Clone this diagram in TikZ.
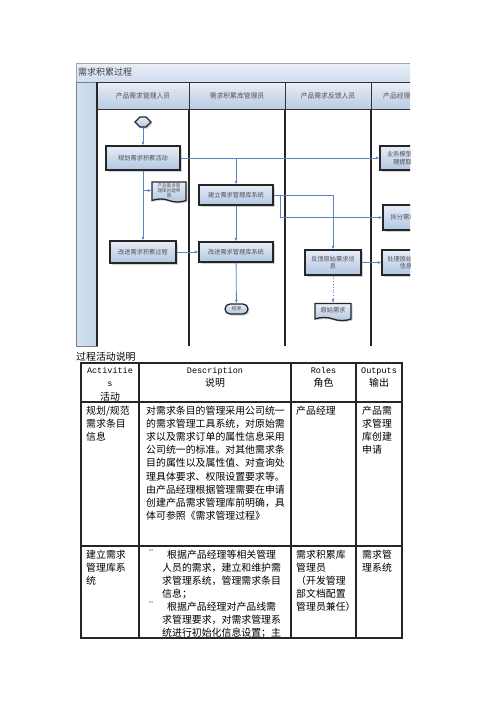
\documentclass[tikz,border=0pt]{standalone}
\usepackage{fontspec}
\setmainfont{Noto Sans CJK SC}
\newfontfamily\latinmono{Liberation Mono}
\usetikzlibrary{arrows.meta,shapes.symbols,shadows}
\definecolor{flowblue}{HTML}{5B84C4}
\definecolor{boxtop}{HTML}{E6EDF7}
\definecolor{boxbottom}{HTML}{B2C6E1}
\definecolor{headtop}{HTML}{E9EFF7}
\definecolor{headbottom}{HTML}{B8CAE2}
\definecolor{stripblue}{HTML}{C3D4EA}
\definecolor{flowtext}{HTML}{505050}
\newcommand{\flowfont}{\fontsize{6.2}{7.6}\selectfont}
\newcommand{\tblfont}{\fontsize{9.9}{13.1}\selectfont}
\newcommand{\tbllatin}{\latinmono\fontsize{8.5}{13.1}\selectfont}

\begin{document}
\begin{tikzpicture}[x=1pt, y=-1pt,
    lanehead/.style={rectangle, draw=black!80, line width=0.8pt, top color=headtop, bottom color=headbottom,
      minimum width=92, minimum height=27, inner sep=0, font=\fontsize{6.8}{8}\selectfont, text=flowtext},
    activity/.style={rectangle, draw=black!85, line width=1.3pt, top color=boxtop, bottom color=boxbottom,
      font=\flowfont, text=flowtext, align=center, inner sep=0,
      drop shadow={shadow xshift=1.5pt, shadow yshift=-1.5pt, opacity=0.35}},
    docu/.style={activity, tape, tape bend top=none, tape bend bottom=out and in, tape bend height=3pt},
    terminal/.style={activity, rounded corners=5},
    flow/.style={draw=flowblue, line width=0.8pt, -{Latex[length=3.5pt,width=3pt]}},
    laneline/.style={draw=black!85, line width=1.2pt},
    tblline/.style={draw=black!85, line width=1.1pt},
    cell/.style={anchor=north west, inner sep=0, align=left, font=\tblfont}]
   \useasboundingbox (0,0) rectangle (500,707);

   % swimlane picture
   \begin{scope}
   \clip (76,63) rectangle (410,346);
   \draw[draw=black!35, line width=0.6pt, top color=headtop, bottom color=stripblue!80] (76,63) rectangle (412,82);
   \node[anchor=west, inner sep=0, font=\fontsize{9}{10}\selectfont, text=black!75] (title) at (78,72.5) {需求积累过程};
   \draw[draw=black!50, line width=0.6pt, left color=stripblue!70, right color=stripblue] (76,82) rectangle (97,346);

   \node[lanehead] (h1) at (143,95.5) {产品需求管理人员};
   \node[lanehead, minimum width=96] (h2) at (237,95.5) {需求积累库管理员};
   \node[lanehead, minimum width=86] (h3) at (328,95.5) {产品需求反馈人员};
   \node[lanehead, anchor=north west] (h4) at (371,82) {};
   \node[anchor=west, inner sep=0, font=\fontsize{6.8}{8}\selectfont, text=flowtext] (h4text) at (383,95.5) {产品经理};

   \draw[laneline] (97,82) -- (97,346);
   \draw[laneline] (189,109) -- (189,346);
   \draw[laneline] (285,109) -- (285,346);
   \draw[laneline] (371,109) -- (371,346);

   \node[activity, signal, signal to=east and west, minimum width=16, minimum height=10] (start) at (143,122) {};
   \node[activity, minimum width=74, minimum height=24] (plan) at (143,158) {规划需求积累活动};
   \node[activity, minimum width=45, minimum height=24] (model) at (402.5,158) {业务模型管\\理提取};
   \node[docu, minimum width=34, minimum height=20, font=\fontsize{4.6}{5.2}\selectfont] (apply) at (169,190.5) {产品需求管\\理库创建申\\请};
   \node[activity, minimum width=74, minimum height=20] (build) at (236,195) {建立需求管理库系统};
   \node[activity, minimum width=40, minimum height=25] (split) at (403,217.5) {拆分需求};
   \node[activity, minimum width=66, minimum height=22] (improve) at (143,252) {改进需求积累过程};
   \node[activity, minimum width=74, minimum height=20] (upgrade) at (236,252) {改进需求管理库系统};
   \node[activity, minimum width=56, minimum height=25] (feedback) at (333,262.5) {反馈原始需求信\\息};
   \node[activity, minimum width=48, minimum height=25] (handle) at (406,262.5) {处理原始需求\\信息};
   \node[terminal, minimum width=23, minimum height=10, font=\fontsize{5}{6}\selectfont] (finish) at (236.5,309) {结束};
   \node[docu, minimum width=36, minimum height=17] (raw) at (333,310.5) {原始需求};

   \draw[flow] (start) -- (plan);
   \draw[flow] (plan.east) -- (model.west);
   \draw[flow] (plan.east -| build.north) -- (build.north);
   \draw[flow] (plan) -- (improve);
   \draw[flow] (plan.south |- apply.west) -- (apply.west);
   \draw[flow] (improve) -- (upgrade);
   \draw[flow] (build) -- (upgrade);
   \draw[flow] (upgrade) -- (finish);
   \draw[flow] (build.east) -| (feedback.north);
   \draw[flow] (build.east) -- ++(7,0) |- (split.west);
   \draw[flow] (feedback) -- (handle);
   \draw[flow, dotted] (feedback) -- (raw);
   \end{scope}

   % activity table
   \node[anchor=west, inner sep=0, font=\tblfont] (caption) at (76,357) {过程活动说明};
   \draw[tblline] (81,363) rectangle (402,638);
   \draw[tblline] (81,402) -- (402,402);
   \draw[tblline] (81,546) -- (402,546);
   \draw[tblline] (139,363) -- (139,638);
   \draw[tblline] (291,363) -- (291,638);
   \draw[tblline] (356,363) -- (356,638);

   \node[cell, anchor=north, align=center] (th1) at (110,367.5) {{\tbllatin Activitie}\\{\tbllatin s}\\活动};
   \node[cell, anchor=north, align=center] (th2) at (215,367.5) {{\tbllatin Description}\\说明};
   \node[cell, anchor=north, align=center] (th3) at (323.5,367.5) {{\tbllatin Roles}\\角色};
   \node[cell, anchor=north, align=center] (th4) at (379,367.5) {{\tbllatin Outputs}\\输出};

   \node[cell] (r1a) at (86,406) {规划/规范\\需求条目\\信息};
   \node[cell] (r1d) at (146,406) {对需求条目的管理采用公司统一\\的需求管理工具系统，对原始需\\求以及需求订单的属性信息采用\\公司统一的标准。对其他需求条\\目的属性以及属性值、对查询处\\理具体要求、权限设置要求等。\\由产品经理根据管理需要在申请\\创建产品需求管理库前明确，具\\体可参照《需求管理过程》};
   \node[cell] (r1r) at (296,406) {产品经理};
   \node[cell] (r1o) at (362,406) {产品需\\求管理\\库创建\\申请};

   \node[cell] (r2a) at (86,549.5) {建立需求\\管理库系\\统};
   \node[cell] (b1) at (148,549.5) {¨};
   \node[cell] (b2) at (148,602) {¨};
   \node[cell] (r2d) at (162,549.5) {\hspace*{5pt}根据产品经理等相关管理\\人员的需求，建立和维护需\\求管理系统，管理需求条目\\信息；\\\hspace*{5pt}根据产品经理对产品线需\\求管理要求，对需求管理系\\统进行初始化信息设置；主};
   \node[cell] (r2r) at (296,549.5) {需求积累库\\管理员\\（开发管理\\部文档配置\\管理员兼任）};
   \node[cell] (r2o) at (362,549.5) {需求管\\理系统};
 \end{tikzpicture}
\end{document}
